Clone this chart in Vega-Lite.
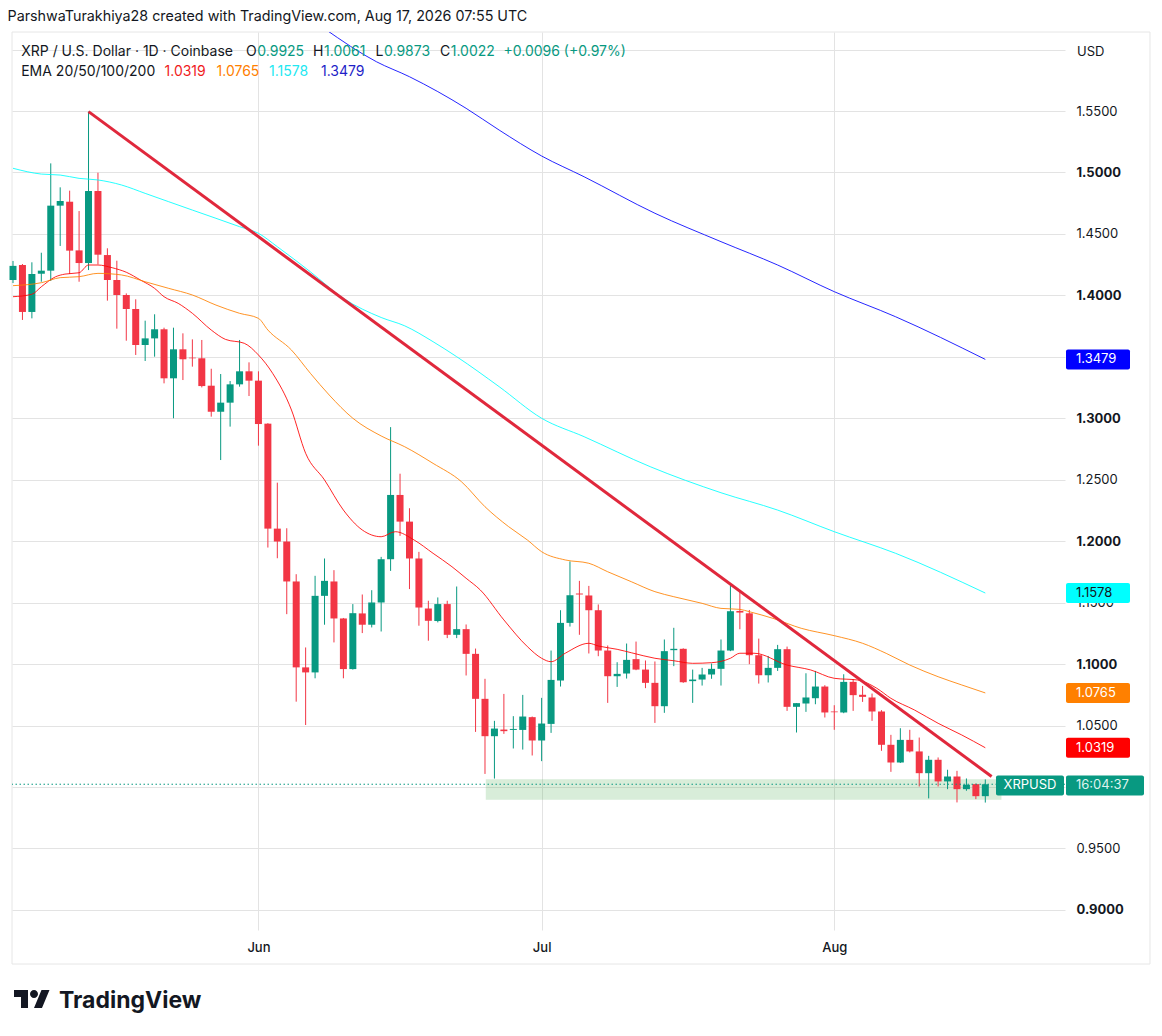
{
  "$schema": "https://vega.github.io/schema/vega-lite/v6.json",
  "width": 1053,
  "height": 898,
  "autosize": "none",
  "padding": {"left": 12, "top": 32, "right": 97, "bottom": 106},
  "background": "#ffffff",
  "title": {
    "text": "ParshwaTurakhiya28 created with TradingView.com, Aug 17, 2026 07:55 UTC",
    "anchor": "start", "font": "Inter", "fontSize": 14.3, "fontWeight": "normal",
    "color": "#131722", "offset": 7, "dx": -2
  },
  "config": {
    "font": "Inter",
    "view": {"stroke": null},
    "scale": {"continuousPadding": 0},
    "axis": {"domain": false, "ticks": false, "grid": true, "gridColor": "#e3e3e3", "gridWidth": 1, "labelColor": "#131722", "labelFont": "Inter", "labelFontSize": 13}
  },
  "data": {"values": [{}]},
  "datasets": {
    "candles": [
      {"d": "2026-05-06", "o": 1.4125, "h": 1.4280, "l": 1.4100, "c": 1.4240},
      {"d": "2026-05-07", "o": 1.4247, "h": 1.4255, "l": 1.3800, "c": 1.3865},
      {"d": "2026-05-08", "o": 1.3865, "h": 1.4269, "l": 1.3813, "c": 1.4174},
      {"d": "2026-05-09", "o": 1.4176, "h": 1.4347, "l": 1.4111, "c": 1.4201},
      {"d": "2026-05-10", "o": 1.4201, "h": 1.5074, "l": 1.4117, "c": 1.4730},
      {"d": "2026-05-11", "o": 1.4730, "h": 1.4879, "l": 1.4402, "c": 1.4768},
      {"d": "2026-05-12", "o": 1.4762, "h": 1.4852, "l": 1.4174, "c": 1.4364},
      {"d": "2026-05-13", "o": 1.4366, "h": 1.4686, "l": 1.4111, "c": 1.4263},
      {"d": "2026-05-14", "o": 1.4263, "h": 1.5495, "l": 1.4206, "c": 1.4849},
      {"d": "2026-05-15", "o": 1.4849, "h": 1.4998, "l": 1.4252, "c": 1.4331},
      {"d": "2026-05-16", "o": 1.4328, "h": 1.4383, "l": 1.3957, "c": 1.4125},
      {"d": "2026-05-17", "o": 1.4125, "h": 1.4282, "l": 1.3729, "c": 1.4003},
      {"d": "2026-05-18", "o": 1.4003, "h": 1.4016, "l": 1.3631, "c": 1.3889},
      {"d": "2026-05-19", "o": 1.3889, "h": 1.3968, "l": 1.3515, "c": 1.3596},
      {"d": "2026-05-20", "o": 1.3596, "h": 1.3794, "l": 1.3466, "c": 1.3650},
      {"d": "2026-05-21", "o": 1.3650, "h": 1.3846, "l": 1.3501, "c": 1.3724},
      {"d": "2026-05-22", "o": 1.3724, "h": 1.3737, "l": 1.3284, "c": 1.3325},
      {"d": "2026-05-23", "o": 1.3325, "h": 1.3737, "l": 1.3000, "c": 1.3561},
      {"d": "2026-05-24", "o": 1.3561, "h": 1.3691, "l": 1.3311, "c": 1.3480},
      {"d": "2026-05-25", "o": 1.3493, "h": 1.3642, "l": 1.3420, "c": 1.3488},
      {"d": "2026-05-26", "o": 1.3488, "h": 1.3637, "l": 1.3251, "c": 1.3262},
      {"d": "2026-05-27", "o": 1.3265, "h": 1.3403, "l": 1.3013, "c": 1.3053},
      {"d": "2026-05-28", "o": 1.3053, "h": 1.3360, "l": 1.2660, "c": 1.3127},
      {"d": "2026-05-29", "o": 1.3127, "h": 1.3303, "l": 1.2932, "c": 1.3276},
      {"d": "2026-05-30", "o": 1.3276, "h": 1.3637, "l": 1.3257, "c": 1.3382},
      {"d": "2026-05-31", "o": 1.3382, "h": 1.3455, "l": 1.3181, "c": 1.3306},
      {"d": "2026-06-01", "o": 1.3306, "h": 1.3382, "l": 1.2777, "c": 1.2953},
      {"d": "2026-06-02", "o": 1.2956, "h": 1.2960, "l": 1.1948, "c": 1.2102},
      {"d": "2026-06-03", "o": 1.2102, "h": 1.2476, "l": 1.1861, "c": 1.1997},
      {"d": "2026-06-04", "o": 1.1997, "h": 1.2105, "l": 1.1406, "c": 1.1672},
      {"d": "2026-06-05", "o": 1.1672, "h": 1.1731, "l": 1.0694, "c": 1.0973},
      {"d": "2026-06-06", "o": 1.0973, "h": 1.1135, "l": 1.0504, "c": 1.0932},
      {"d": "2026-06-07", "o": 1.0932, "h": 1.1718, "l": 1.0884, "c": 1.1555},
      {"d": "2026-06-08", "o": 1.1555, "h": 1.1859, "l": 1.1320, "c": 1.1677},
      {"d": "2026-06-09", "o": 1.1672, "h": 1.1764, "l": 1.1176, "c": 1.1371},
      {"d": "2026-06-10", "o": 1.1371, "h": 1.1375, "l": 1.0884, "c": 1.0959},
      {"d": "2026-06-11", "o": 1.0959, "h": 1.1488, "l": 1.0955, "c": 1.1414},
      {"d": "2026-06-12", "o": 1.1412, "h": 1.1566, "l": 1.1252, "c": 1.1320},
      {"d": "2026-06-13", "o": 1.1320, "h": 1.1601, "l": 1.1298, "c": 1.1501},
      {"d": "2026-06-14", "o": 1.1501, "h": 1.1872, "l": 1.1265, "c": 1.1853},
      {"d": "2026-06-15", "o": 1.1853, "h": 1.2928, "l": 1.1758, "c": 1.2376},
      {"d": "2026-06-16", "o": 1.2376, "h": 1.2549, "l": 1.2043, "c": 1.2159},
      {"d": "2026-06-17", "o": 1.2159, "h": 1.2268, "l": 1.1610, "c": 1.1859},
      {"d": "2026-06-18", "o": 1.1859, "h": 1.1913, "l": 1.1312, "c": 1.1460},
      {"d": "2026-06-19", "o": 1.1452, "h": 1.1515, "l": 1.1190, "c": 1.1352},
      {"d": "2026-06-20", "o": 1.1350, "h": 1.1542, "l": 1.1339, "c": 1.1488},
      {"d": "2026-06-21", "o": 1.1488, "h": 1.1515, "l": 1.1211, "c": 1.1238},
      {"d": "2026-06-22", "o": 1.1238, "h": 1.1631, "l": 1.1211, "c": 1.1284},
      {"d": "2026-06-23", "o": 1.1284, "h": 1.1322, "l": 1.0907, "c": 1.1083},
      {"d": "2026-06-24", "o": 1.1083, "h": 1.1126, "l": 1.0448, "c": 1.0717},
      {"d": "2026-06-25", "o": 1.0717, "h": 1.0880, "l": 1.0106, "c": 1.0413},
      {"d": "2026-06-26", "o": 1.0413, "h": 1.0538, "l": 1.0068, "c": 1.0475},
      {"d": "2026-06-27", "o": 1.0467, "h": 1.0757, "l": 1.0432, "c": 1.0454},
      {"d": "2026-06-28", "o": 1.0464, "h": 1.0576, "l": 1.0313, "c": 1.0472},
      {"d": "2026-06-29", "o": 1.0464, "h": 1.0749, "l": 1.0304, "c": 1.0573},
      {"d": "2026-06-30", "o": 1.0568, "h": 1.0573, "l": 1.0256, "c": 1.0378},
      {"d": "2026-07-01", "o": 1.0378, "h": 1.0725, "l": 1.0210, "c": 1.0516},
      {"d": "2026-07-02", "o": 1.0513, "h": 1.1110, "l": 1.0440, "c": 1.0871},
      {"d": "2026-07-03", "o": 1.0866, "h": 1.1438, "l": 1.0817, "c": 1.1335},
      {"d": "2026-07-04", "o": 1.1335, "h": 1.1835, "l": 1.1305, "c": 1.1560},
      {"d": "2026-07-05", "o": 1.1574, "h": 1.1677, "l": 1.1238, "c": 1.1566},
      {"d": "2026-07-06", "o": 1.1558, "h": 1.1636, "l": 1.1086, "c": 1.1438},
      {"d": "2026-07-07", "o": 1.1438, "h": 1.1485, "l": 1.1064, "c": 1.1110},
      {"d": "2026-07-08", "o": 1.1110, "h": 1.1151, "l": 1.0684, "c": 1.0901},
      {"d": "2026-07-09", "o": 1.0901, "h": 1.1015, "l": 1.0814, "c": 1.0920},
      {"d": "2026-07-10", "o": 1.0923, "h": 1.1167, "l": 1.0882, "c": 1.1034},
      {"d": "2026-07-11", "o": 1.1040, "h": 1.1183, "l": 1.0950, "c": 1.0955},
      {"d": "2026-07-12", "o": 1.0955, "h": 1.1029, "l": 1.0804, "c": 1.0847},
      {"d": "2026-07-13", "o": 1.0847, "h": 1.1021, "l": 1.0521, "c": 1.0657},
      {"d": "2026-07-14", "o": 1.0657, "h": 1.1200, "l": 1.0603, "c": 1.1105},
      {"d": "2026-07-15", "o": 1.1113, "h": 1.1295, "l": 1.0983, "c": 1.1124},
      {"d": "2026-07-16", "o": 1.1124, "h": 1.1128, "l": 1.0847, "c": 1.0852},
      {"d": "2026-07-17", "o": 1.0861, "h": 1.0955, "l": 1.0684, "c": 1.0874},
      {"d": "2026-07-18", "o": 1.0874, "h": 1.0969, "l": 1.0825, "c": 1.0915},
      {"d": "2026-07-19", "o": 1.0915, "h": 1.1004, "l": 1.0880, "c": 1.0961},
      {"d": "2026-07-20", "o": 1.0961, "h": 1.1200, "l": 1.0825, "c": 1.1110},
      {"d": "2026-07-21", "o": 1.1110, "h": 1.1641, "l": 1.1105, "c": 1.1430},
      {"d": "2026-07-22", "o": 1.1432, "h": 1.1603, "l": 1.1283, "c": 1.1419},
      {"d": "2026-07-23", "o": 1.1413, "h": 1.1440, "l": 1.0999, "c": 1.1072},
      {"d": "2026-07-24", "o": 1.1072, "h": 1.1207, "l": 1.0841, "c": 1.0909},
      {"d": "2026-07-25", "o": 1.0909, "h": 1.1066, "l": 1.0850, "c": 1.0969},
      {"d": "2026-07-26", "o": 1.0969, "h": 1.1156, "l": 1.0944, "c": 1.1121},
      {"d": "2026-07-27", "o": 1.1121, "h": 1.1142, "l": 1.0619, "c": 1.0652},
      {"d": "2026-07-28", "o": 1.0652, "h": 1.0682, "l": 1.0443, "c": 1.0682},
      {"d": "2026-07-29", "o": 1.0679, "h": 1.0925, "l": 1.0611, "c": 1.0728},
      {"d": "2026-07-30", "o": 1.0722, "h": 1.0944, "l": 1.0673, "c": 1.0817},
      {"d": "2026-07-31", "o": 1.0817, "h": 1.0828, "l": 1.0565, "c": 1.0606},
      {"d": "2026-08-01", "o": 1.0614, "h": 1.0665, "l": 1.0465, "c": 1.0608},
      {"d": "2026-08-02", "o": 1.0606, "h": 1.0917, "l": 1.0600, "c": 1.0855},
      {"d": "2026-08-03", "o": 1.0855, "h": 1.0877, "l": 1.0619, "c": 1.0747},
      {"d": "2026-08-04", "o": 1.0750, "h": 1.0822, "l": 1.0692, "c": 1.0733},
      {"d": "2026-08-05", "o": 1.0728, "h": 1.0760, "l": 1.0538, "c": 1.0614},
      {"d": "2026-08-06", "o": 1.0614, "h": 1.0625, "l": 1.0294, "c": 1.0343},
      {"d": "2026-08-07", "o": 1.0343, "h": 1.0424, "l": 1.0123, "c": 1.0199},
      {"d": "2026-08-08", "o": 1.0199, "h": 1.0478, "l": 1.0195, "c": 1.0383},
      {"d": "2026-08-09", "o": 1.0383, "h": 1.0465, "l": 1.0281, "c": 1.0289},
      {"d": "2026-08-10", "o": 1.0289, "h": 1.0402, "l": 1.0004, "c": 1.0112},
      {"d": "2026-08-11", "o": 1.0112, "h": 1.0253, "l": 0.9907, "c": 1.0221},
      {"d": "2026-08-12", "o": 1.0221, "h": 1.0240, "l": 1.0004, "c": 1.0045},
      {"d": "2026-08-13", "o": 1.0045, "h": 1.0140, "l": 0.9982, "c": 1.0085},
      {"d": "2026-08-14", "o": 1.0085, "h": 1.0131, "l": 0.9874, "c": 0.9982},
      {"d": "2026-08-15", "o": 0.9982, "h": 1.0069, "l": 0.9969, "c": 1.0018},
      {"d": "2026-08-16", "o": 1.0023, "h": 1.0028, "l": 0.9901, "c": 0.9925},
      {"d": "2026-08-17", "o": 0.9925, "h": 1.0061, "l": 0.9873, "c": 1.0022}
    ],
    "ema": [
      {"d": "2026-05-06", "k": "EMA20", "v": 1.3989},
      {"d": "2026-05-08", "k": "EMA20", "v": 1.4009},
      {"d": "2026-05-09", "k": "EMA20", "v": 1.4070},
      {"d": "2026-05-10T12:00:00Z", "k": "EMA20", "v": 1.4151},
      {"d": "2026-05-11T12:00:00Z", "k": "EMA20", "v": 1.4173},
      {"d": "2026-05-13", "k": "EMA20", "v": 1.4184},
      {"d": "2026-05-14", "k": "EMA20", "v": 1.4247},
      {"d": "2026-05-15", "k": "EMA20", "v": 1.4247},
      {"d": "2026-05-16T12:00:00Z", "k": "EMA20", "v": 1.4225},
      {"d": "2026-05-18", "k": "EMA20", "v": 1.4188},
      {"d": "2026-05-19T12:00:00Z", "k": "EMA20", "v": 1.4125},
      {"d": "2026-05-21", "k": "EMA20", "v": 1.4057},
      {"d": "2026-05-22", "k": "EMA20", "v": 1.3989},
      {"d": "2026-05-23T12:00:00Z", "k": "EMA20", "v": 1.3935},
      {"d": "2026-05-25", "k": "EMA20", "v": 1.3854},
      {"d": "2026-05-27", "k": "EMA20", "v": 1.3718},
      {"d": "2026-05-28T12:00:00Z", "k": "EMA20", "v": 1.3642},
      {"d": "2026-05-30T12:00:00Z", "k": "EMA20", "v": 1.3610},
      {"d": "2026-06-01", "k": "EMA20", "v": 1.3515},
      {"d": "2026-06-02T12:00:00Z", "k": "EMA20", "v": 1.3366},
      {"d": "2026-06-04T12:00:00Z", "k": "EMA20", "v": 1.3067},
      {"d": "2026-06-06", "k": "EMA20", "v": 1.2715},
      {"d": "2026-06-08", "k": "EMA20", "v": 1.2498},
      {"d": "2026-06-10", "k": "EMA20", "v": 1.2253},
      {"d": "2026-06-12", "k": "EMA20", "v": 1.2091},
      {"d": "2026-06-14", "k": "EMA20", "v": 1.2036},
      {"d": "2026-06-15T12:00:00Z", "k": "EMA20", "v": 1.2077},
      {"d": "2026-06-17T12:00:00Z", "k": "EMA20", "v": 1.2009},
      {"d": "2026-06-19T12:00:00Z", "k": "EMA20", "v": 1.1901},
      {"d": "2026-06-21T12:00:00Z", "k": "EMA20", "v": 1.1792},
      {"d": "2026-06-23", "k": "EMA20", "v": 1.1698},
      {"d": "2026-06-24T12:00:00Z", "k": "EMA20", "v": 1.1603},
      {"d": "2026-06-27", "k": "EMA20", "v": 1.1359},
      {"d": "2026-06-29T12:00:00Z", "k": "EMA20", "v": 1.1141},
      {"d": "2026-07-01", "k": "EMA20", "v": 1.1047},
      {"d": "2026-07-02", "k": "EMA20", "v": 1.1019},
      {"d": "2026-07-03T12:00:00Z", "k": "EMA20", "v": 1.1088},
      {"d": "2026-07-06", "k": "EMA20", "v": 1.1169},
      {"d": "2026-07-07", "k": "EMA20", "v": 1.1147},
      {"d": "2026-07-09", "k": "EMA20", "v": 1.1120},
      {"d": "2026-07-10T12:00:00Z", "k": "EMA20", "v": 1.1092},
      {"d": "2026-07-13", "k": "EMA20", "v": 1.1047},
      {"d": "2026-07-15", "k": "EMA20", "v": 1.1027},
      {"d": "2026-07-17", "k": "EMA20", "v": 1.1006},
      {"d": "2026-07-19", "k": "EMA20", "v": 1.1011},
      {"d": "2026-07-21", "k": "EMA20", "v": 1.1047},
      {"d": "2026-07-22", "k": "EMA20", "v": 1.1088},
      {"d": "2026-07-23T12:00:00Z", "k": "EMA20", "v": 1.1088},
      {"d": "2026-07-27", "k": "EMA20", "v": 1.0992},
      {"d": "2026-07-29T12:00:00Z", "k": "EMA20", "v": 1.0952},
      {"d": "2026-08-01", "k": "EMA20", "v": 1.0884},
      {"d": "2026-08-03T12:00:00Z", "k": "EMA20", "v": 1.0870},
      {"d": "2026-08-05T12:00:00Z", "k": "EMA20", "v": 1.0803},
      {"d": "2026-08-07", "k": "EMA20", "v": 1.0721},
      {"d": "2026-08-09T12:00:00Z", "k": "EMA20", "v": 1.0626},
      {"d": "2026-08-12", "k": "EMA20", "v": 1.0518},
      {"d": "2026-08-14T12:00:00Z", "k": "EMA20", "v": 1.0423},
      {"d": "2026-08-17", "k": "EMA20", "v": 1.0319},
      {"d": "2026-05-06", "k": "EMA50", "v": 1.4079},
      {"d": "2026-05-09", "k": "EMA50", "v": 1.4103},
      {"d": "2026-05-11", "k": "EMA50", "v": 1.4144},
      {"d": "2026-05-13", "k": "EMA50", "v": 1.4152},
      {"d": "2026-05-15", "k": "EMA50", "v": 1.4179},
      {"d": "2026-05-17T12:00:00Z", "k": "EMA50", "v": 1.4166},
      {"d": "2026-05-20", "k": "EMA50", "v": 1.4111},
      {"d": "2026-05-22T12:00:00Z", "k": "EMA50", "v": 1.4057},
      {"d": "2026-05-25", "k": "EMA50", "v": 1.4003},
      {"d": "2026-05-27T12:00:00Z", "k": "EMA50", "v": 1.3921},
      {"d": "2026-05-30", "k": "EMA50", "v": 1.3854},
      {"d": "2026-06-01", "k": "EMA50", "v": 1.3813},
      {"d": "2026-06-02", "k": "EMA50", "v": 1.3718},
      {"d": "2026-06-04T12:00:00Z", "k": "EMA50", "v": 1.3555},
      {"d": "2026-06-06T12:00:00Z", "k": "EMA50", "v": 1.3366},
      {"d": "2026-06-08T12:00:00Z", "k": "EMA50", "v": 1.3189},
      {"d": "2026-06-11", "k": "EMA50", "v": 1.3000},
      {"d": "2026-06-14", "k": "EMA50", "v": 1.2856},
      {"d": "2026-06-16T12:00:00Z", "k": "EMA50", "v": 1.2768},
      {"d": "2026-06-19T12:00:00Z", "k": "EMA50", "v": 1.2633},
      {"d": "2026-06-22T12:00:00Z", "k": "EMA50", "v": 1.2484},
      {"d": "2026-06-25", "k": "EMA50", "v": 1.2280},
      {"d": "2026-06-27T12:00:00Z", "k": "EMA50", "v": 1.2118},
      {"d": "2026-06-29T12:00:00Z", "k": "EMA50", "v": 1.2009},
      {"d": "2026-07-01", "k": "EMA50", "v": 1.1914},
      {"d": "2026-07-03T12:00:00Z", "k": "EMA50", "v": 1.1847},
      {"d": "2026-07-06", "k": "EMA50", "v": 1.1820},
      {"d": "2026-07-08", "k": "EMA50", "v": 1.1751},
      {"d": "2026-07-10T12:00:00Z", "k": "EMA50", "v": 1.1670},
      {"d": "2026-07-13", "k": "EMA50", "v": 1.1589},
      {"d": "2026-07-15", "k": "EMA50", "v": 1.1548},
      {"d": "2026-07-18", "k": "EMA50", "v": 1.1494},
      {"d": "2026-07-20", "k": "EMA50", "v": 1.1453},
      {"d": "2026-07-22", "k": "EMA50", "v": 1.1445},
      {"d": "2026-07-23", "k": "EMA50", "v": 1.1426},
      {"d": "2026-07-25T12:00:00Z", "k": "EMA50", "v": 1.1372},
      {"d": "2026-07-28T12:00:00Z", "k": "EMA50", "v": 1.1291},
      {"d": "2026-08-01", "k": "EMA50", "v": 1.1231},
      {"d": "2026-08-04", "k": "EMA50", "v": 1.1169},
      {"d": "2026-08-06T12:00:00Z", "k": "EMA50", "v": 1.1087},
      {"d": "2026-08-09", "k": "EMA50", "v": 1.0992},
      {"d": "2026-08-12", "k": "EMA50", "v": 1.0897},
      {"d": "2026-08-14T12:00:00Z", "k": "EMA50", "v": 1.0830},
      {"d": "2026-08-17", "k": "EMA50", "v": 1.0765},
      {"d": "2026-05-06", "k": "EMA100", "v": 1.5034},
      {"d": "2026-05-09", "k": "EMA100", "v": 1.4987},
      {"d": "2026-05-11", "k": "EMA100", "v": 1.4979},
      {"d": "2026-05-13", "k": "EMA100", "v": 1.4952},
      {"d": "2026-05-15", "k": "EMA100", "v": 1.4939},
      {"d": "2026-05-17T12:00:00Z", "k": "EMA100", "v": 1.4898},
      {"d": "2026-05-20", "k": "EMA100", "v": 1.4830},
      {"d": "2026-05-22T12:00:00Z", "k": "EMA100", "v": 1.4762},
      {"d": "2026-05-25", "k": "EMA100", "v": 1.4694},
      {"d": "2026-05-27T12:00:00Z", "k": "EMA100", "v": 1.4627},
      {"d": "2026-05-30", "k": "EMA100", "v": 1.4559},
      {"d": "2026-06-01", "k": "EMA100", "v": 1.4505},
      {"d": "2026-06-03", "k": "EMA100", "v": 1.4396},
      {"d": "2026-06-06T12:00:00Z", "k": "EMA100", "v": 1.4192},
      {"d": "2026-06-10", "k": "EMA100", "v": 1.3976},
      {"d": "2026-06-14", "k": "EMA100", "v": 1.3820},
      {"d": "2026-06-16T12:00:00Z", "k": "EMA100", "v": 1.3752},
      {"d": "2026-06-19T12:00:00Z", "k": "EMA100", "v": 1.3623},
      {"d": "2026-06-22", "k": "EMA100", "v": 1.3501},
      {"d": "2026-06-26T12:00:00Z", "k": "EMA100", "v": 1.3257},
      {"d": "2026-07-01", "k": "EMA100", "v": 1.3000},
      {"d": "2026-07-05T12:00:00Z", "k": "EMA100", "v": 1.2850},
      {"d": "2026-07-12T12:00:00Z", "k": "EMA100", "v": 1.2606},
      {"d": "2026-07-20", "k": "EMA100", "v": 1.2394},
      {"d": "2026-07-26", "k": "EMA100", "v": 1.2253},
      {"d": "2026-08-01", "k": "EMA100", "v": 1.2077},
      {"d": "2026-08-07T12:00:00Z", "k": "EMA100", "v": 1.1901},
      {"d": "2026-08-17", "k": "EMA100", "v": 1.1578},
      {"d": "2026-06-08", "k": "EMA200", "v": 1.6170},
      {"d": "2026-06-13T12:00:00Z", "k": "EMA200", "v": 1.5901},
      {"d": "2026-06-17", "k": "EMA200", "v": 1.5779},
      {"d": "2026-06-23", "k": "EMA200", "v": 1.5522},
      {"d": "2026-06-26T12:00:00Z", "k": "EMA200", "v": 1.5345},
      {"d": "2026-07-01", "k": "EMA200", "v": 1.5134},
      {"d": "2026-07-05T12:00:00Z", "k": "EMA200", "v": 1.4965},
      {"d": "2026-07-13", "k": "EMA200", "v": 1.4668},
      {"d": "2026-07-20", "k": "EMA200", "v": 1.4437},
      {"d": "2026-07-26", "k": "EMA200", "v": 1.4247},
      {"d": "2026-08-01", "k": "EMA200", "v": 1.4030},
      {"d": "2026-08-07T12:00:00Z", "k": "EMA200", "v": 1.3826},
      {"d": "2026-08-17", "k": "EMA200", "v": 1.3479}
    ],
    "tags": [
      {"k": "EMA200", "v": 1.3479},
      {"k": "EMA100", "v": 1.1578},
      {"k": "EMA50", "v": 1.0765},
      {"k": "EMA20", "v": 1.0319}
    ]
  },
  "layer": [
    {
      "mark": {"type": "rect", "filled": false, "stroke": "#e6e6e6", "strokeWidth": 1},
      "encoding": {
        "x": {"datum": {"year": 2026, "month": 5, "date": 5, "hours": 21, "minutes": 27, "utc": true}, "type": "temporal",
              "scale": {"type": "utc", "padding": 0, "domain": [{"year": 2026, "month": 5, "date": 5, "hours": 21, "minutes": 27, "utc": true}, {"year": 2026, "month": 8, "date": 25, "hours": 10, "minutes": 36, "utc": true}]},
              "axis": {"grid": true, "values": [{"year": 2026, "month": 6, "date": 1, "utc": true}, {"year": 2026, "month": 7, "date": 1, "utc": true}, {"year": 2026, "month": 8, "date": 1, "utc": true}],
                       "labelExpr": "utcFormat(datum.value, '%b')", "labelPadding": 11, "labelFontWeight": 500, "title": null}},
        "x2": {"datum": {"year": 2026, "month": 9, "date": 3, "hours": 10, "minutes": 42, "utc": true}},
        "y": {"datum": 1.6143, "type": "quantitative",
              "scale": {"domain": [0.8836, 1.6143], "nice": false, "zero": false, "padding": 0},
              "axis": {"orient": "right", "title": null, "grid": true,
                       "values": [0.9, 0.95, 1.0, 1.05, 1.1, 1.15, 1.2, 1.25, 1.3, 1.35, 1.4, 1.45, 1.5, 1.55, 1.6],
                       "labelExpr": "datum.value > 1.58 ? '' : format(datum.value, '.4f')",
                       "labelAlign": "left", "labelPadding": 11,
                       "labelFontWeight": {"condition": {"test": "abs(datum.value * 10 - round(datum.value * 10)) < 0.001", "value": "bold"}, "value": "normal"}}},
        "y2": {"datum": 0.8559}
      }
    },
    {
      "data": {"values": [{"start": "2026-06-25T02:00:00Z", "end": "2026-08-18T17:00:00Z", "top": 1.0062, "bottom": 0.9895}]},
      "mark": {"type": "rect", "color": "#4caf50", "opacity": 0.22},
      "encoding": {
        "x": {"field": "start", "type": "temporal", "title": null},
        "x2": {"field": "end"},
        "y": {"field": "top", "type": "quantitative", "title": null},
        "y2": {"field": "bottom"}
      }
    },
    {
      "data": {"name": "candles"},
      "mark": {"type": "rule", "strokeWidth": 1},
      "encoding": {
        "x": {"field": "d", "type": "temporal", "title": null},
        "y": {"field": "l", "type": "quantitative", "title": null},
        "y2": {"field": "h"},
        "color": {"condition": {"test": "datum.c >= datum.o", "value": "#089981"}, "value": "#f23645"}
      }
    },
    {
      "data": {"name": "candles"},
      "mark": {"type": "bar", "size": 7},
      "encoding": {
        "x": {"field": "d", "type": "temporal", "title": null},
        "y": {"field": "o", "type": "quantitative", "title": null},
        "y2": {"field": "c"},
        "color": {"condition": {"test": "datum.c >= datum.o", "value": "#089981"}, "value": "#f23645"}
      }
    },
    {
      "data": {"name": "ema"},
      "mark": {"type": "line", "strokeWidth": 1, "opacity": 0.85, "clip": true, "interpolate": "monotone"},
      "encoding": {
        "x": {"field": "d", "type": "temporal", "title": null},
        "y": {"field": "v", "type": "quantitative", "title": null},
        "color": {"field": "k", "type": "nominal", "legend": null,
                  "scale": {"domain": ["EMA20", "EMA50", "EMA100", "EMA200"], "range": ["#ff0000", "#ff8000", "#00ffff", "#0000ff"]}}
      }
    },
    {
      "data": {"values": [{"d": "2026-05-14", "v": 1.5495}, {"d": "2026-08-17T16:00:00Z", "v": 1.0085}]},
      "mark": {"type": "line", "color": "#e0283c", "strokeWidth": 3},
      "encoding": {
        "x": {"field": "d", "type": "temporal", "title": null},
        "y": {"field": "v", "type": "quantitative", "title": null}
      }
    },
    {
      "mark": {"type": "rule", "color": "#089981", "strokeWidth": 1, "strokeDash": [1.5, 2.5]},
      "encoding": {"y": {"datum": 1.0022, "type": "quantitative"}}
    },
    {
      "data": {"name": "tags"},
      "mark": {"type": "tick", "orient": "horizontal", "size": 64, "thickness": 20, "cornerRadius": 2, "opacity": 1},
      "encoding": {
        "x": {"datum": {"year": 2026, "month": 8, "date": 28, "hours": 22, "minutes": 30, "utc": true}, "type": "temporal"},
        "y": {"field": "v", "type": "quantitative", "title": null},
        "color": {"field": "k", "type": "nominal", "legend": null}
      }
    },
    {
      "data": {"name": "tags"},
      "mark": {"type": "text", "align": "left", "baseline": "middle", "fontSize": 13},
      "encoding": {
        "x": {"datum": {"year": 2026, "month": 8, "date": 26, "hours": 14, "minutes": 36, "utc": true}, "type": "temporal"},
        "y": {"field": "v", "type": "quantitative", "title": null},
        "text": {"field": "v", "type": "quantitative", "format": ".4f"},
        "color": {"condition": {"test": "datum.k === 'EMA100'", "value": "#131722"}, "value": "#ffffff"}
      }
    },
    {
      "mark": {"type": "tick", "orient": "horizontal", "size": 68, "thickness": 20, "cornerRadius": 2, "color": "#089981", "opacity": 1},
      "encoding": {
        "x": {"datum": {"year": 2026, "month": 8, "date": 21, "hours": 17, "minutes": 36, "utc": true}, "type": "temporal"},
        "y": {"datum": 1.0012, "type": "quantitative"}
      }
    },
    {
      "mark": {"type": "tick", "orient": "horizontal", "size": 78, "thickness": 20, "cornerRadius": 2, "color": "#089981", "opacity": 1},
      "encoding": {
        "x": {"datum": {"year": 2026, "month": 8, "date": 29, "hours": 16, "minutes": 18, "utc": true}, "type": "temporal"},
        "y": {"datum": 1.0012, "type": "quantitative"}
      }
    },
    {
      "mark": {"type": "text", "align": "center", "baseline": "middle", "fontSize": 13, "color": "#ffffff", "text": "XRPUSD"},
      "encoding": {
        "x": {"datum": {"year": 2026, "month": 8, "date": 21, "hours": 17, "minutes": 36, "utc": true}, "type": "temporal"},
        "y": {"datum": 1.0012, "type": "quantitative"}
      }
    },
    {
      "mark": {"type": "text", "align": "left", "baseline": "middle", "fontSize": 13, "color": "#dff3ee", "text": "16:04:37"},
      "encoding": {
        "x": {"datum": {"year": 2026, "month": 8, "date": 26, "hours": 14, "minutes": 36, "utc": true}, "type": "temporal"},
        "y": {"datum": 1.0012, "type": "quantitative"}
      }
    },
    {
      "mark": {"type": "text", "align": "left", "baseline": "middle", "fontSize": 13, "color": "#131722", "text": "USD"},
      "encoding": {
        "x": {"datum": {"year": 2026, "month": 8, "date": 26, "hours": 17, "minutes": 6, "utc": true}, "type": "temporal"},
        "y": {"datum": 1.5980, "type": "quantitative"}
      }
    },
    {
      "mark": {"type": "text", "align": "left", "baseline": "alphabetic", "fontSize": 14, "color": "#131722", "text": "XRP / U.S. Dollar · 1D · Coinbase"},
      "encoding": {"x": {"datum": {"year": 2026, "month": 5, "date": 6, "hours": 20, "minutes": 51, "utc": true}, "type": "temporal"}, "y": {"datum": 1.5948, "type": "quantitative"}}
    },
    {
      "mark": {"type": "text", "align": "right", "dx": -0.5, "baseline": "alphabetic", "fontSize": 14, "color": "#131722", "text": "O"},
      "encoding": {"x": {"datum": {"year": 2026, "month": 5, "date": 31, "hours": 21, "minutes": 6, "utc": true}, "type": "temporal"}, "y": {"datum": 1.5948, "type": "quantitative"}}
    },
    {
      "mark": {"type": "text", "align": "left", "baseline": "alphabetic", "fontSize": 14, "color": "#089981", "text": "0.9925"},
      "encoding": {"x": {"datum": {"year": 2026, "month": 5, "date": 31, "hours": 21, "minutes": 6, "utc": true}, "type": "temporal"}, "y": {"datum": 1.5948, "type": "quantitative"}}
    },
    {
      "mark": {"type": "text", "align": "right", "dx": -0.5, "baseline": "alphabetic", "fontSize": 14, "color": "#131722", "text": "H"},
      "encoding": {"x": {"datum": {"year": 2026, "month": 6, "date": 7, "hours": 22, "minutes": 42, "utc": true}, "type": "temporal"}, "y": {"datum": 1.5948, "type": "quantitative"}}
    },
    {
      "mark": {"type": "text", "align": "left", "baseline": "alphabetic", "fontSize": 14, "color": "#089981", "text": "1.0061"},
      "encoding": {"x": {"datum": {"year": 2026, "month": 6, "date": 7, "hours": 22, "minutes": 42, "utc": true}, "type": "temporal"}, "y": {"datum": 1.5948, "type": "quantitative"}}
    },
    {
      "mark": {"type": "text", "align": "right", "dx": -0.5, "baseline": "alphabetic", "fontSize": 14, "color": "#131722", "text": "L"},
      "encoding": {"x": {"datum": {"year": 2026, "month": 6, "date": 14, "hours": 7, "minutes": 12, "utc": true}, "type": "temporal"}, "y": {"datum": 1.5948, "type": "quantitative"}}
    },
    {
      "mark": {"type": "text", "align": "left", "baseline": "alphabetic", "fontSize": 14, "color": "#089981", "text": "0.9873"},
      "encoding": {"x": {"datum": {"year": 2026, "month": 6, "date": 14, "hours": 7, "minutes": 12, "utc": true}, "type": "temporal"}, "y": {"datum": 1.5948, "type": "quantitative"}}
    },
    {
      "mark": {"type": "text", "align": "right", "dx": -0.5, "baseline": "alphabetic", "fontSize": 14, "color": "#131722", "text": "C"},
      "encoding": {"x": {"datum": {"year": 2026, "month": 6, "date": 21, "hours": 8, "minutes": 48, "utc": true}, "type": "temporal"}, "y": {"datum": 1.5948, "type": "quantitative"}}
    },
    {
      "mark": {"type": "text", "align": "left", "baseline": "alphabetic", "fontSize": 14, "color": "#089981", "text": "1.0022"},
      "encoding": {"x": {"datum": {"year": 2026, "month": 6, "date": 21, "hours": 8, "minutes": 48, "utc": true}, "type": "temporal"}, "y": {"datum": 1.5948, "type": "quantitative"}}
    },
    {
      "mark": {"type": "text", "align": "left", "baseline": "alphabetic", "fontSize": 14, "color": "#089981", "text": "+0.0096 (+0.97%)"},
      "encoding": {"x": {"datum": {"year": 2026, "month": 6, "date": 26, "hours": 23, "minutes": 0, "utc": true}, "type": "temporal"}, "y": {"datum": 1.5948, "type": "quantitative"}}
    },
    {
      "mark": {"type": "text", "align": "left", "baseline": "alphabetic", "fontSize": 14, "color": "#131722", "text": "EMA 20/50/100/200"},
      "encoding": {"x": {"datum": {"year": 2026, "month": 5, "date": 6, "hours": 20, "minutes": 51, "utc": true}, "type": "temporal"}, "y": {"datum": 1.5785, "type": "quantitative"}}
    },
    {
      "mark": {"type": "text", "align": "left", "baseline": "alphabetic", "fontSize": 14, "color": "#f01c1c", "text": "1.0319"},
      "encoding": {"x": {"datum": {"year": 2026, "month": 5, "date": 22, "hours": 1, "minutes": 12, "utc": true}, "type": "temporal"}, "y": {"datum": 1.5785, "type": "quantitative"}}
    },
    {
      "mark": {"type": "text", "align": "left", "baseline": "alphabetic", "fontSize": 14, "color": "#ff8000", "text": "1.0765"},
      "encoding": {"x": {"datum": {"year": 2026, "month": 5, "date": 27, "hours": 13, "minutes": 24, "utc": true}, "type": "temporal"}, "y": {"datum": 1.5785, "type": "quantitative"}}
    },
    {
      "mark": {"type": "text", "align": "left", "baseline": "alphabetic", "fontSize": 14, "color": "#22e8f2", "text": "1.1578"},
      "encoding": {"x": {"datum": {"year": 2026, "month": 6, "date": 2, "hours": 2, "minutes": 52, "utc": true}, "type": "temporal"}, "y": {"datum": 1.5785, "type": "quantitative"}}
    },
    {
      "mark": {"type": "text", "align": "left", "baseline": "alphabetic", "fontSize": 14, "color": "#1f1fc8", "text": "1.3479"},
      "encoding": {"x": {"datum": {"year": 2026, "month": 6, "date": 7, "hours": 15, "minutes": 6, "utc": true}, "type": "temporal"}, "y": {"datum": 1.5785, "type": "quantitative"}}
    },
    {
      "mark": {"type": "point", "filled": true, "opacity": 1, "color": "#131722", "strokeWidth": 0, "size": 1260,
               "shape": "M-0.211,0.507L-0.606,0.507L-0.606,-0.113L-1,-0.113L-1,-0.507L-0.211,-0.507Z M0.577,0.507L0.127,0.507L0.549,-0.507L1,-0.507Z M-0.098,-0.282A0.225,0.225 0 1,0 0.352,-0.282A0.225,0.225 0 1,0 -0.098,-0.282Z"},
      "encoding": {"x": {"datum": {"year": 2026, "month": 5, "date": 7, "hours": 23, "minutes": 40, "utc": true}, "type": "temporal"}, "y": {"datum": 0.8275, "type": "quantitative"}}
    },
    {
      "mark": {"type": "text", "align": "left", "baseline": "alphabetic", "fontSize": 23, "fontWeight": "bold", "color": "#131722", "text": "TradingView"},
      "encoding": {"x": {"datum": {"year": 2026, "month": 5, "date": 10, "hours": 20, "minutes": 57, "utc": true}, "type": "temporal"}, "y": {"datum": 0.8201, "type": "quantitative"}}
    }
  ]
}
